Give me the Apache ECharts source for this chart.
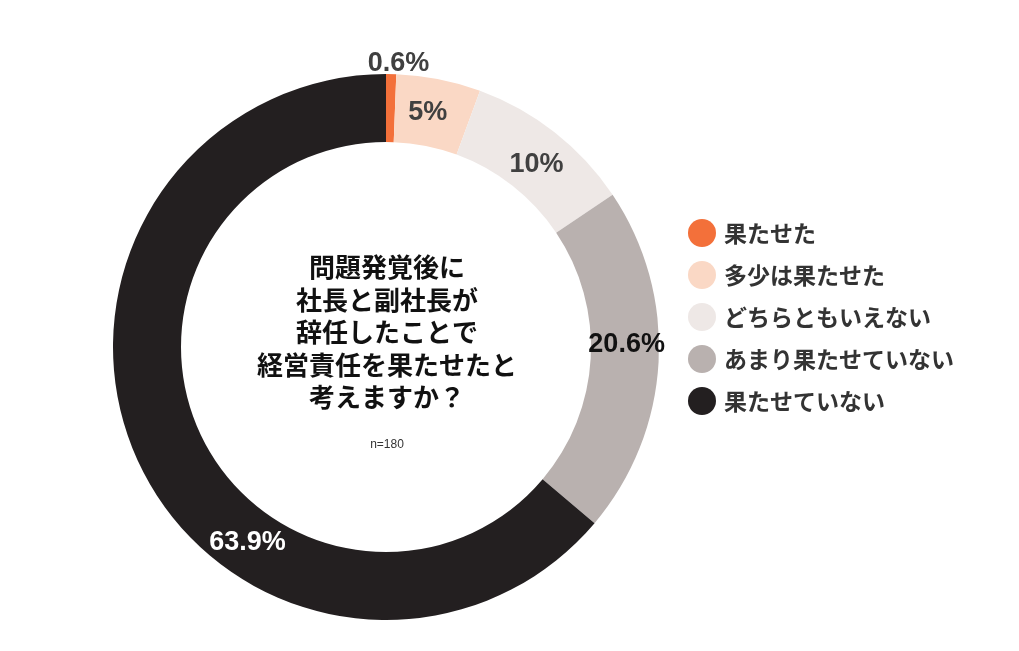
<!DOCTYPE html>
<html><head><meta charset="utf-8">
<script src="https://cdn.jsdelivr.net/npm/echarts@6/dist/echarts.min.js"></script>
<style>html,body{margin:0;padding:0;background:#fff}#c{width:1019px;height:651px}</style>
</head><body><div id="c"></div>
<script>
const categories = ['果たせた', '多少は果たせた', 'どちらともいえない', 'あまり果たせていない', '果たせていない'];
const values = [0.6, 5, 10, 20.6, 63.9];
const colors = ['#F3703A', '#FAD8C5', '#EEE8E6', '#B9B1AF', '#231F20'];
const labelColors = ['#404040', '#404040', '#404040', '#111111', '#ffffff'];
const centerTitle = '問題発覚後に\n社長と副社長が\n辞任したことで\n経営責任を果たせたと\n考えますか？';
const sampleNote = 'n=180';

const cx = 386, cy = 347;
const chart = echarts.init(document.getElementById('c'));
chart.setOption({
  animation: false,
  backgroundColor: '#fff',
  legend: {
    orient: 'vertical', left: 683, top: 214,
    icon: 'circle', itemWidth: 28, itemHeight: 28, itemGap: 14,
    data: categories,
    textStyle: { fontSize: 23, fontWeight: 'bold', color: '#333', fontFamily: 'Noto Sans CJK JP', padding: [0, 0, 0, 3] }
  },
  graphic: [
    { type: 'text', x: cx + 1, y: 251, style: { text: centerTitle, textAlign: 'center', fontSize: 26, lineHeight: 32.5, fontWeight: 'bold', fill: '#111', fontFamily: 'Noto Sans CJK JP' } },
    { type: 'text', x: cx + 1, y: 439, style: { text: sampleNote, textAlign: 'center', fontSize: 12, fill: '#333', fontFamily: 'Liberation Sans' } }
  ],
  series: [{
    type: 'pie',
    center: [cx, cy],
    radius: [205, 273],
    startAngle: 90,
    clockwise: true,
    avoidLabelOverlap: false,
    label: {
      show: true, position: 'inside',
      formatter: p => p.value + '%',
      fontSize: 27, fontWeight: 'bold', fontFamily: 'Liberation Sans'
    },
    labelLine: { show: false },
    labelLayout: function (p) {
      if (p.dataIndex === 0) return { dx: 8, dy: -41 };
      if (p.dataIndex === 1) return { dx: -5, dy: 3 };
      if (p.dataIndex === 2) return { dx: 1, dy: 8 };
      if (p.dataIndex === 3) return { dx: -1, dy: -16 };
      if (p.dataIndex === 4) return { dx: 81, dy: 94 };
      return {};
    },
    emphasis: { disabled: true },
    data: categories.map((n, i) => ({
      name: n, value: values[i],
      itemStyle: { color: colors[i] },
      label: { color: labelColors[i] }
    }))
  }]
});
</script></body></html>
